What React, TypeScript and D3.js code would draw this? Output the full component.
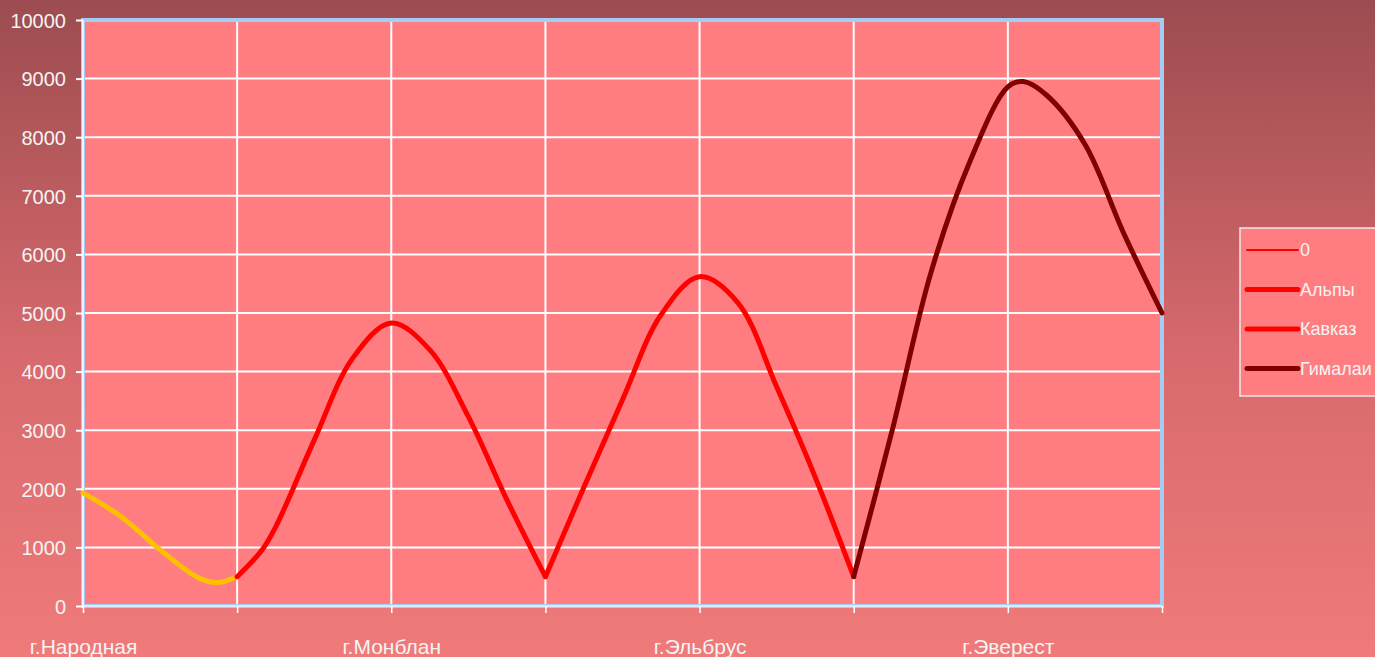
import React, { useEffect, useRef } from 'react';
import * as d3 from 'd3';

// category ticks along the bottom (one every other grid line)
const categories = ['г.Народная', '', 'г.Монблан', '', 'г.Эльбрус', '', 'г.Эверест', ''];
const yTicks = [0, 1000, 2000, 3000, 4000, 5000, 6000, 7000, 8000, 9000, 10000];

// series: [position on category axis, height]
const uralPoints: [number, number][] = [
  [0, 1930], [0.25, 1520], [0.5, 960], [0.75, 480], [0.87, 400], [1, 500],
];
const alpsPoints: [number, number][] = [
  [1, 500], [1.16, 950], [1.25, 1350], [1.5, 2830], [1.75, 4230], [2, 4830],
  [2.25, 4370], [2.5, 3230], [2.75, 1810], [3, 500],
];
const caucasusPoints: [number, number][] = [
  [3, 500], [3.25, 2030], [3.5, 3520], [3.75, 4970], [4, 5620],
  [4.25, 5170], [4.5, 3740], [4.75, 2200], [5, 500],
];
const himalayaPoints: [number, number][] = [
  [5, 500], [5.25, 3000], [5.5, 5680], [5.75, 7560], [6, 8860], [6.1, 8950],
  [6.25, 8720], [6.5, 7880], [6.75, 6370], [7, 5000],
];

const legendNames = ['0', 'Альпы', 'Кавказ', 'Гималаи'];
const legendColors = ['#ff0000', '#ff0000', '#ff0000', '#800000'];
const legendWidths = [2, 5, 5, 5];

export default function App() {
  const svgRef = useRef<SVGSVGElement>(null);

  useEffect(() => {
    if (!svgRef.current) return;
    const root = d3.select(svgRef.current);
    root.selectAll('*').remove();

    const width = 1375, height = 657;
    const margin = { top: 20, right: 213, bottom: 51, left: 83 };
    const innerW = width - margin.left - margin.right;
    const innerH = height - margin.top - margin.bottom;
    const font = '"Liberation Sans", Arial, sans-serif';

    root.attr('width', width).attr('height', height);

    // background gradient
    const defs = root.append('defs');
    const grad = defs.append('linearGradient')
      .attr('id', 'bg').attr('x1', 0).attr('y1', 0).attr('x2', 0).attr('y2', 1);
    grad.append('stop').attr('offset', '0%').attr('stop-color', '#9c4c50');
    grad.append('stop').attr('offset', '55%').attr('stop-color', '#d86a6d');
    grad.append('stop').attr('offset', '100%').attr('stop-color', '#f07a7a');
    root.append('rect').attr('width', width).attr('height', height).attr('fill', 'url(#bg)');

    const svg = root.append('g').attr('transform', `translate(${margin.left},${margin.top})`);

    const x = d3.scaleLinear().domain([0, categories.length - 1]).range([0, innerW]);
    const y = d3.scaleLinear().domain([0, 10000]).range([innerH, 0]);

    // plot area
    svg.append('rect').attr('width', innerW).attr('height', innerH).attr('fill', '#ff7c80');

    // grid
    svg.append('g')
      .selectAll('line')
      .data(yTicks)
      .enter()
      .append('line')
      .attr('x1', 0).attr('x2', innerW)
      .attr('y1', d => y(d)).attr('y2', d => y(d))
      .attr('stroke', '#ffffff').attr('stroke-width', 2);
    svg.append('g')
      .selectAll('line')
      .data(d3.range(categories.length))
      .enter()
      .append('line')
      .attr('x1', d => x(d)).attr('x2', d => x(d))
      .attr('y1', 0).attr('y2', innerH)
      .attr('stroke', '#ffffff').attr('stroke-width', 2);

    // frame
    svg.append('rect')
      .attr('width', innerW).attr('height', innerH)
      .attr('fill', 'none').attr('stroke', '#a4cdf5').attr('stroke-width', 4);
    svg.append('line').attr('x1', 0).attr('x2', 0).attr('y1', 0).attr('y2', innerH)
      .attr('stroke', '#eef4ff').attr('stroke-width', 2);
    svg.append('line').attr('x1', 0).attr('x2', innerW).attr('y1', innerH).attr('y2', innerH)
      .attr('stroke', '#eef4ff').attr('stroke-width', 1.5);

    // y axis
    const yAxis = svg.append('g')
      .call(d3.axisLeft(y).tickValues(yTicks).tickSize(7).tickPadding(10).tickFormat(d3.format('d')));
    yAxis.select('.domain').remove();
    yAxis.selectAll('line').attr('stroke', '#ffffff').attr('stroke-width', 2);
    yAxis.selectAll('text')
      .attr('fill', '#f4f4f4').attr('font-family', font).attr('font-size', 20)
      .attr('dy', '0.36em');

    // x axis
    const xAxis = svg.append('g')
      .attr('transform', `translate(0,${innerH})`)
      .call(d3.axisBottom(x).tickValues(d3.range(categories.length)).tickSize(7).tickPadding(26)
        .tickFormat(i => categories[i as number]));
    xAxis.select('.domain').remove();
    xAxis.selectAll('line').attr('stroke', '#ffffff').attr('stroke-width', 1.5);
    xAxis.selectAll('text')
      .attr('fill', '#f4f4f4').attr('font-family', font).attr('font-size', 21);

    // lines
    const line = d3.line<[number, number]>()
      .x(d => x(d[0]))
      .y(d => y(d[1]))
      .curve(d3.curveCatmullRom.alpha(0.5));

    const series = [
      { pts: uralPoints, color: '#ffc000' },
      { pts: alpsPoints, color: '#ff0000' },
      { pts: caucasusPoints, color: '#ff0000' },
      { pts: himalayaPoints, color: '#800000' },
    ];
    series.forEach(s => {
      svg.append('path')
        .datum(s.pts)
        .attr('d', line)
        .attr('fill', 'none')
        .attr('stroke', s.color)
        .attr('stroke-width', 5)
        .attr('stroke-linejoin', 'round')
        .attr('stroke-linecap', 'round');
    });

    // legend (box runs off the right edge, as in the original)
    const legend = root.append('g').attr('transform', 'translate(1240,228)');
    legend.append('rect')
      .attr('width', 150).attr('height', 168)
      .attr('fill', '#ff7c80').attr('stroke', '#f2e6e6').attr('stroke-width', 1.5);
    const item = legend.selectAll('.item')
      .data(legendNames)
      .enter()
      .append('g')
      .attr('class', 'item')
      .attr('transform', (_, i) => `translate(0,${22 + i * 39.5})`);
    item.append('line')
      .attr('x1', 7).attr('x2', 58).attr('y1', 0).attr('y2', 0)
      .attr('stroke', (_, i) => legendColors[i])
      .attr('stroke-width', (_, i) => legendWidths[i])
      .attr('stroke-linecap', 'round');
    item.append('text')
      .attr('x', 60).attr('dy', '0.36em')
      .attr('fill', '#f4f4f4').attr('font-family', font).attr('font-size', 18)
      .text(d => d);
  }, []);

  return (
    <div style={{ position: 'absolute', left: 0, top: 0, width: 1375, height: 657, overflow: 'hidden' }}>
      <svg ref={svgRef}></svg>
    </div>
  );
}
